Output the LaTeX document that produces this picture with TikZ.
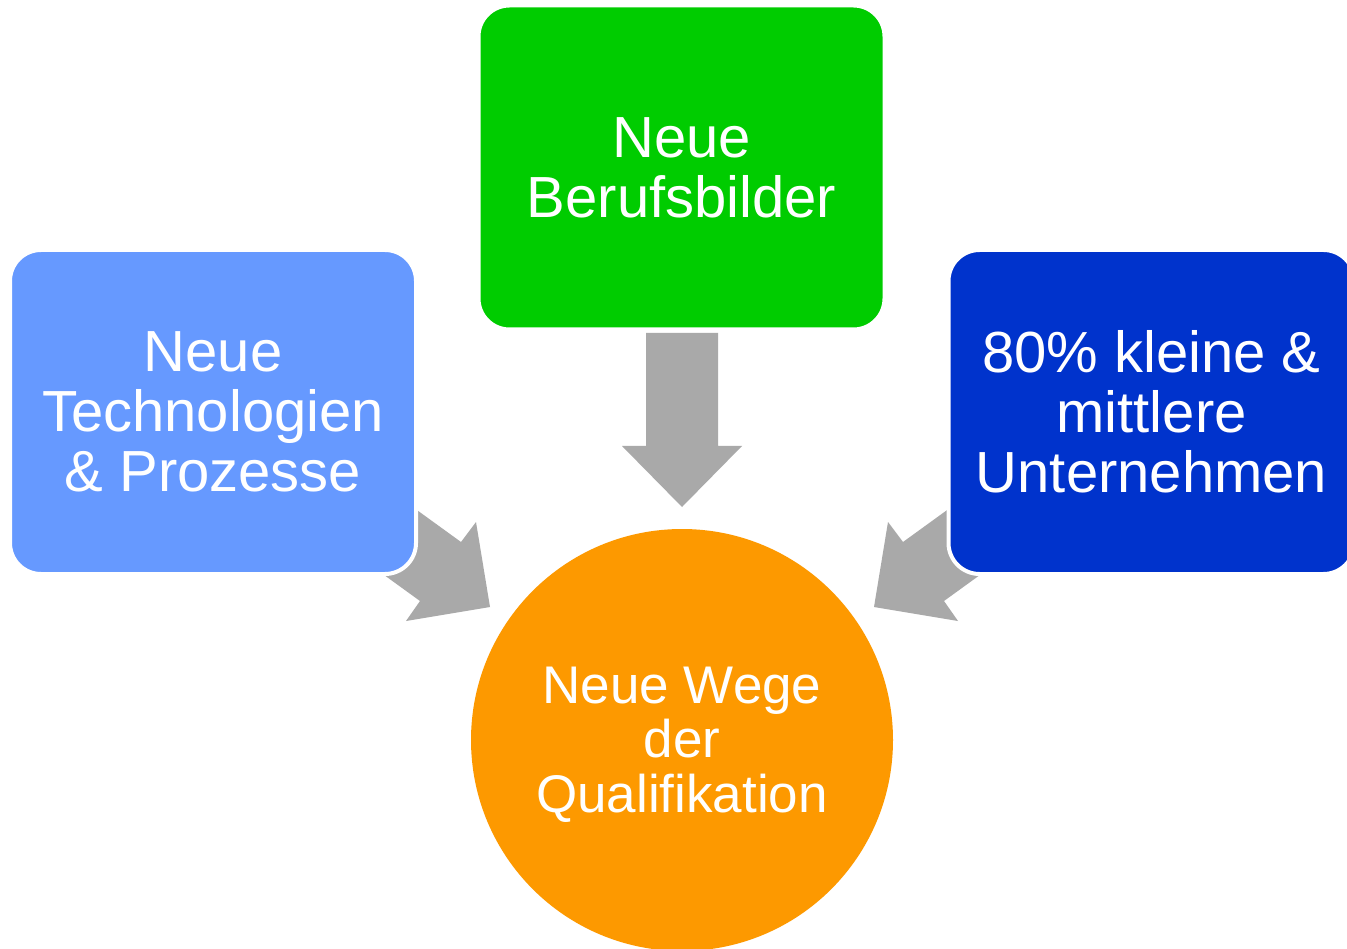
\documentclass[tikz,border=0pt]{standalone}
\usepackage{fontspec}
\setmainfont{Liberation Sans}
\definecolor{lblue}{HTML}{6699FF}
\definecolor{cgreen}{HTML}{00CC00}
\definecolor{dblue}{HTML}{0033CC}
\definecolor{orng}{HTML}{FD9900}
\definecolor{agray}{HTML}{A9A9A9}
\begin{document}
\begin{tikzpicture}[x=1pt,y=-1pt,
  box/.style={rounded corners=31pt, minimum width=406pt, minimum height=324pt,
    inner sep=0pt, draw=white, line width=4pt, text=white, align=center,
    font=\fontsize{58}{60}\selectfont},
  goal/.style={circle, minimum size=422pt, inner sep=0pt, fill=orng},
  goaltext/.style={text=white, align=center, inner sep=0pt,
    font=\fontsize{53}{54.5}\selectfont},
  blockarrow/.style={fill=agray, draw=none}]
\useasboundingbox (0,0) rectangle (1347,949);
\clip (0,0) rectangle (1347,949);
\fill[white] (0,0) rectangle (1347,949);
% arrows (drawn first, boxes overlap them)
\fill[blockarrow] (646,333) -- (718,333) -- (718,446) -- (742,446) -- (682,507)
  -- (622,446) -- (646,446) -- cycle;
\fill[blockarrow] (369.5,475.7) -- (461,542) -- (476,522) -- (490,607)
  -- (406,621) -- (420,601) -- (328.5,534.7) -- cycle;
\fill[blockarrow] (994.5,475.7) -- (903,542) -- (888,522) -- (874,607)
  -- (958,621) -- (944,601) -- (1035.5,534.7) -- cycle;
% nodes
\node[box, fill=lblue] (tech) at (213,412) {Neue\\Technologien\\\& Prozesse};
\node[box, fill=cgreen] (beruf) at (681.5,167.5) {Neue\\Berufsbilder};
\node[box, fill=dblue] (kmu) at (1151.5,412) {80\% kleine \&\\mittlere\\Unternehmen};
\node[goal] (wege) at (682,740) {};
\node[goaltext, yshift=-4.5pt] (wegetext) at (wege.center) {Neue Wege\\der\\Qualifikation};
\end{tikzpicture}
\end{document}
